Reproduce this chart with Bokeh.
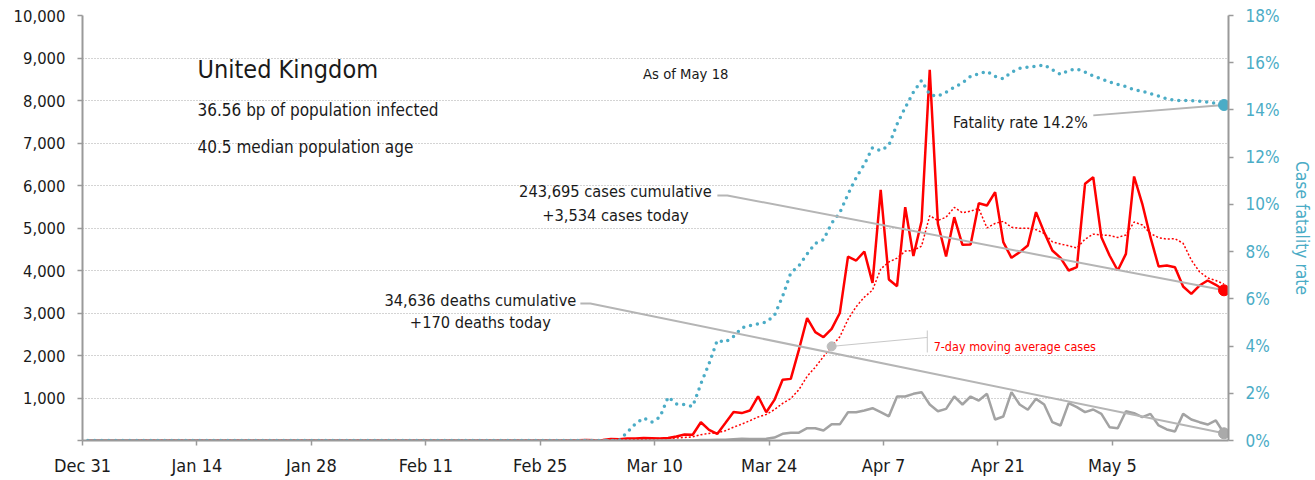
import pandas as pd
from bokeh.plotting import figure
from bokeh.models import Range1d, LinearAxis, FixedTicker, Label
from bokeh.embed import file_html
from bokeh.resources import INLINE

FONT = "DejaVu Sans Condensed, Roboto, sans-serif"

# ---------------- data (daily, Dec 31 2019 .. May 18 2020) ----------------
# Dec 31 .. Feb 29 (61 days)
cases_early = [0] * 31 + [2, 0, 0, 0, 0, 0, 0, 1, 0, 0, 4, 1, 0, 0, 0, 0, 0, 0,
                          0, 0, 0, 0, 0, 0, 0, 4, 0, 2, 5, 3]
deaths_early = [0] * 61
cfr_early = [0.0] * 61
# Mar 1 .. May 18 (79 days)
cases_late = [12, 4, 11, 34, 29, 48, 45, 60, 55, 50,
              60, 95, 140, 135, 430, 250, 155, 410, 670, 645,
              705, 1040, 665, 955, 1430, 1450, 2140, 2880, 2550, 2430,
              2625, 3000, 4325, 4235, 4447, 3710, 5898, 3788, 3631, 5490,
              4340, 5160, 8720, 5100, 4330, 5255, 4604, 4612, 5584, 5529,
              5843, 4667, 4298, 4431, 4588, 5373, 4902, 4471, 4298, 4000,
              4078, 6039, 6196, 4784, 4353, 4000, 4392, 6212, 5569, 4784,
              4094, 4118, 4078, 3624, 3451, 3647, 3765, 3663, 3534]
deaths_late = [0, 0, 0, 0, 0, 1, 1, 0, 1, 2,
               1, 1, 2, 1, 11, 14, 20, 16, 32, 40,
               33, 33, 40, 70, 157, 180, 185, 290, 290, 235,
               380, 380, 665, 667, 706, 760, 667, 570, 1035, 1035,
               1098, 1137, 847, 690, 745, 1035, 847, 1035, 941, 1098,
               494, 565, 1137, 847, 722, 980, 847, 431, 353, 878,
               784, 667, 729, 627, 314, 290, 690, 643, 549, 627,
               353, 259, 212, 627, 494, 431, 376, 471, 170]
cfr_late = [0, 0, 0, 0, 0, 0.35, 0.71, 0.95, 0.78, 0.99,
            1.84, 1.55, 1.52, 1.44, 2.4, 3.25, 4.24, 4.17, 4.41, 4.77,
            4.87, 4.94, 5.01, 5.3, 6.1, 7.1, 7.4, 7.9, 8.35, 8.5,
            9.2, 9.65, 10.43, 11.13, 11.7, 12.4, 12.28, 12.5, 13.4, 14.1,
            14.75, 15.25, 14.65, 14.58, 14.75, 14.96, 15.15, 15.42, 15.53, 15.64,
            15.42, 15.32, 15.6, 15.76, 15.81, 15.85, 15.91, 15.7, 15.5, 15.67,
            15.74, 15.6, 15.44, 15.32, 15.18, 15.08, 14.99, 14.85, 14.79, 14.69,
            14.59, 14.47, 14.4, 14.4, 14.4, 14.37, 14.33, 14.28, 14.21]

tick_labels = ["Dec 31", "Jan 14", "Jan 28", "Feb 11", "Feb 25",
               "Mar 10", "Mar 24", "Apr 7", "Apr 21", "May 5"]
left_ticks = list(range(0, 10001, 1000))
right_ticks = list(range(0, 19, 2))

cases = pd.Series(cases_early + cases_late, dtype=float)
deaths = pd.Series(deaths_early + deaths_late, dtype=float)
cfr = pd.Series(cfr_early + cfr_late, dtype=float)
ma7 = cases.rolling(7).mean()

n = len(cases)
day = pd.Series(range(n), dtype=float)
x = day + 0.65          # points sit a bit past midnight of their date
last_x = x.iloc[-1]

RED = "#ff0000"
GREY = "#a3a3a3"
BLUE = "#4bacc6"
TXT = "#1a1a1a"

p = figure(frame_width=1146, frame_height=425,
           min_border_left=82, min_border_right=85, min_border_top=15, min_border_bottom=40,
           x_range=Range1d(0, 140.2), y_range=Range1d(0, 10000),
           toolbar_location=None, output_backend="svg")
p.extra_y_ranges = {"pct": Range1d(0, 18)}
p.outline_line_color = None
p.background_fill_color = "white"
p.border_fill_color = "white"

# grids
p.xgrid.grid_line_color = None
p.ygrid.grid_line_color = "#a8a8a8"
p.ygrid.grid_line_dash = "1 2"
p.ygrid.grid_line_width = 1

# bottom axis
xa = p.xaxis[0]
xa.ticker = FixedTicker(ticks=[14 * i for i in range(len(tick_labels))])
xa.major_label_overrides = {14 * i: lab for i, lab in enumerate(tick_labels)}
xa.minor_tick_line_color = None
xa.axis_line_color = "#9a9a9a"
xa.axis_line_width = 2
xa.major_tick_line_color = "#9a9a9a"
xa.major_tick_line_width = 1.5
xa.major_tick_in = 0
xa.major_tick_out = 5
xa.major_label_standoff = 9
xa.major_label_text_font = FONT
xa.major_label_text_font_size = "18px"
xa.major_label_text_color = TXT

# left axis
ya = p.yaxis[0]
ya.ticker = FixedTicker(ticks=left_ticks)
ya.major_label_overrides = {t: ("" if t == 0 else f"{t:,}") for t in left_ticks}
ya.minor_tick_line_color = None
ya.axis_line_color = "#9a9a9a"
ya.axis_line_width = 2
ya.major_tick_line_color = "#9a9a9a"
ya.major_tick_line_width = 1.5
ya.major_tick_in = 0
ya.major_tick_out = 5
ya.major_label_standoff = 12
ya.major_label_text_font = FONT
ya.major_label_text_font_size = "16.5px"
ya.major_label_text_color = TXT

# right axis
ra = LinearAxis(y_range_name="pct", ticker=FixedTicker(ticks=right_ticks),
                axis_label="Case fatality rate")
ra.major_label_overrides = {t: f"{t}%" for t in right_ticks}
ra.minor_tick_line_color = None
ra.axis_line_color = "#9a9a9a"
ra.axis_line_width = 2
ra.major_tick_line_color = "#9a9a9a"
ra.major_tick_line_width = 1.5
ra.major_tick_in = 0
ra.major_tick_out = 5
ra.major_label_standoff = 12
ra.major_label_text_font = FONT
ra.major_label_text_font_size = "17px"
ra.major_label_text_color = BLUE
ra.axis_label_text_font = FONT
ra.axis_label_text_font_size = "17.3px"
ra.axis_label_text_font_style = "normal"
ra.axis_label_text_color = BLUE
ra.axis_label_standoff = 10
p.add_layout(ra, "right")

# series
p.line(x, cases, line_color=RED, line_width=2.5)
p.line(x, deaths, line_color=GREY, line_width=2.5)
p.line(x, ma7, line_color=RED, line_width=1.5, line_dash="2 2")
p.line(x, cfr, y_range_name="pct", line_color=BLUE, line_width=3.5,
       line_dash="0 7", line_cap="round")

# leader lines
LEAD = "#b5b5b5"
p.line([77.67, 78.89, last_x], [5765, 5765, cases.iloc[-1]], line_color=LEAD, line_width=2)
p.line([60.91, 62.13, last_x], [3224, 3224, deaths.iloc[-1]], line_color=LEAD, line_width=2)
p.line([123.66, last_x], [13.77, cfr.iloc[-1]], y_range_name="pct", line_color=LEAD, line_width=2)
ma_i = 91
p.line([x.iloc[ma_i], 103.35], [ma7.iloc[ma_i], 2424], line_color="#c8c8c8", line_width=1)
p.line([103.35, 103.35], [2588, 2071], line_color="#c8c8c8", line_width=1)

# end-point dots
p.scatter([last_x], [cases.iloc[-1]], size=11, color=RED)
p.scatter([last_x], [deaths.iloc[-1]], size=11, color="#aaaaaa")
p.scatter([last_x], [cfr.iloc[-1]], size=11, color=BLUE, y_range_name="pct")
p.scatter([x.iloc[ma_i]], [ma7.iloc[ma_i]], size=9, color="#bdbdbd")

def lab(xv, yv, text, size, color=TXT, align="left"):
    p.add_layout(Label(x=xv, y=yv, text=text, text_font=FONT,
                       text_font_size=size, text_color=color, text_align=align,
                       text_baseline="alphabetic"))

lab(14.07, 8718, "United Kingdom", "25px")
lab(14.07, 7781, "36.56 bp of population infected", "17px")
lab(14.07, 6906, "40.5 median population age", "17px")
lab(68.58, 8628, "As of May 18", "14.7px")
lab(65.19, 5866, "243,695 cases cumulative", "16.3px", align="center")
lab(65.19, 5294, "+3,534 cases today", "16.3px", align="center")
lab(48.68, 3294, "34,636 deaths cumulative", "16.3px", align="center")
lab(48.68, 2776, "+170 deaths today", "16.3px", align="center")
lab(106.5, 7494, "Fatality rate 14.2%", "15.8px")
lab(104.13, 2212, "7-day moving average cases", "12.5px", color=RED)

open("out.html", "w").write(file_html(p, INLINE))
